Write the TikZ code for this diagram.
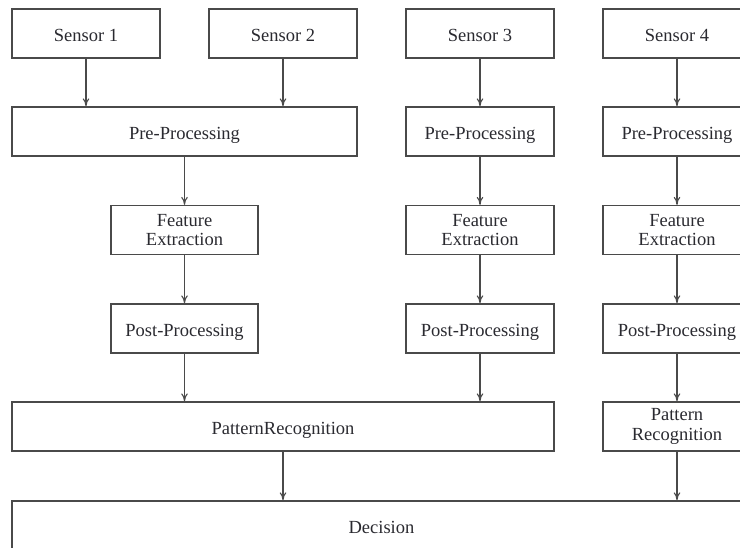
\documentclass[tikz,border=0pt]{standalone}
\usepackage{fontspec}
\setmainfont{Liberation Serif}
\usetikzlibrary{arrows.meta}
\definecolor{linegray}{HTML}{4A4A4A}
\definecolor{textink}{HTML}{2A2A30}
\begin{document}
\begin{tikzpicture}[x=1pt,y=-1pt,
  box/.style={draw=linegray, line width=1.2pt, minimum height=49pt, inner sep=0pt,
    align=center, text=textink, font=\fontsize{18.5}{19.5}\selectfont},
  oneline/.style={box, text height=16pt, text depth=0.8pt},
  narrow/.style={oneline, minimum width=148pt},
  narrowtwo/.style={box, minimum width=148pt},
  arr/.style={draw=linegray, line width=1.1pt, -{To[length=8pt,width=6.5pt]}}]
\useasboundingbox (0,0) rectangle (740,547);
% inputs
\node[narrow] (s1) at (86,33.5) {Sensor 1};
\node[narrow] (s2) at (283,33.5) {Sensor 2};
\node[narrow] (s3) at (480,33.5) {Sensor 3};
\node[narrow] (s4) at (677,33.5) {Sensor 4};
% pre-processing
\node[oneline, minimum width=345pt] (pre12) at (184.5,131.5) {Pre-Processing};
\node[narrow] (pre3) at (480,131.5) {Pre-Processing};
\node[narrow] (pre4) at (677,131.5) {Pre-Processing};
% feature extraction
\node[box, minimum width=147pt] (fe12) at (184.5,230) {Feature\\Extraction};
\node[narrowtwo] (fe3) at (480,230) {Feature\\Extraction};
\node[narrowtwo] (fe4) at (677,230) {Feature\\Extraction};
% post-processing
\node[oneline, minimum width=147pt] (post12) at (184.5,328.5) {Post-Processing};
\node[narrow] (post3) at (480,328.5) {Post-Processing};
\node[narrow] (post4) at (677,328.5) {Post-Processing};
% recognition
\node[oneline, minimum width=542pt] (pr123) at (283,426.5) {PatternRecognition};
\node[narrowtwo] (pr4) at (677,426.5) {Pattern\\Recognition};
% fusion
\node[oneline, minimum width=739pt] (dec) at (381.5,525.5) {Decision};
% connectors
\draw[arr] (s1.south) -- (s1.south |- pre12.north);
\draw[arr] (s2.south) -- (s2.south |- pre12.north);
\draw[arr] (s3) -- (pre3);
\draw[arr] (s4) -- (pre4);
\draw[arr] (pre12) -- (fe12);
\draw[arr] (pre3) -- (fe3);
\draw[arr] (pre4) -- (fe4);
\draw[arr] (fe12) -- (post12);
\draw[arr] (fe3) -- (post3);
\draw[arr] (fe4) -- (post4);
\draw[arr] (post12.south) -- (post12.south |- pr123.north);
\draw[arr] (post3.south) -- (post3.south |- pr123.north);
\draw[arr] (post4) -- (pr4);
\draw[arr] (pr123.south) -- (pr123.south |- dec.north);
\draw[arr] (pr4.south) -- (pr4.south |- dec.north);
\end{tikzpicture}
\end{document}
